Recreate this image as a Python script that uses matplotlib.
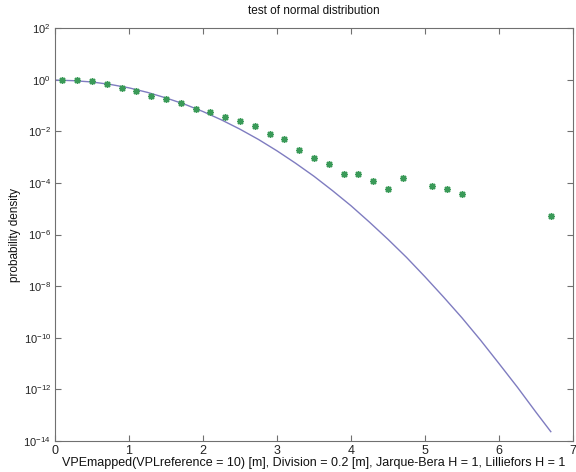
import numpy as np
import matplotlib
matplotlib.use("Agg")
import matplotlib.pyplot as plt
from matplotlib.ticker import FixedLocator, NullLocator, LogFormatterSciNotation

plt.rcParams['font.family'] = ['Liberation Sans', 'DejaVu Sans']
plt.rcParams['mathtext.fontset'] = 'custom'
plt.rcParams['mathtext.rm'] = 'Liberation Sans'
plt.rcParams['mathtext.it'] = 'Liberation Sans'

# histogram estimate (bin centres, division 0.2)
hist_x = [0.1, 0.3, 0.5, 0.7, 0.9, 1.1, 1.3, 1.5, 1.7, 1.9, 2.1, 2.3, 2.5, 2.7,
          2.9, 3.1, 3.3, 3.5, 3.7, 3.9, 4.1, 4.3, 4.5, 4.7, 5.1, 5.3, 5.5, 6.7]
hist_y = [1.0, 0.97, 0.87, 0.65, 0.46, 0.355, 0.224, 0.17, 0.12, 0.072, 0.054,
          0.036, 0.025, 0.016, 7.6e-3, 4.9e-3, 1.95e-3, 9.1e-4, 5.4e-4, 2.3e-4,
          2.3e-4, 1.2e-4, 5.9e-5, 1.6e-4, 7.4e-5, 5.9e-5, 3.7e-5, 5.4e-6]

# fitted normal density
fit_x = [0.0, 0.25, 0.5, 0.75, 1.0, 1.25, 1.5, 1.75, 2.0, 2.25, 2.5, 2.75, 3.0,
         3.25, 3.5, 3.75, 4.0, 4.25, 4.5, 4.75, 5.0, 5.25, 5.5, 5.75, 6.0, 6.25,
         6.5, 6.7]
fit_y = [0.96, 0.91, 0.81, 0.65, 0.48, 0.32, 0.195, 0.112, 0.058, 0.0275, 0.012,
         4.8e-3, 1.74e-3, 5.8e-4, 1.8e-4, 5.0e-5, 1.3e-5, 3.0e-6, 6.5e-7, 1.3e-7,
         2.3e-8, 3.8e-9, 5.9e-10, 8.1e-11, 1.0e-11, 1.2e-12, 1.3e-13, 2.3e-14]

y_ticks = [1e-14, 1e-12, 1e-10, 1e-8, 1e-6, 1e-4, 1e-2, 1e0, 1e2]
x_ticks = [0, 1, 2, 3, 4, 5, 6, 7]

fig = plt.figure(figsize=(5.76, 4.72), dpi=100)
ax = fig.add_axes([55 / 576, 1 - 441 / 472, 518 / 576, 413 / 472])

ax.semilogy(fit_x, fit_y, color='#7f7cc0', linewidth=1.0)
ax.plot(hist_x, hist_y, linestyle='none', marker=(8, 2, 0), markersize=5,
        markeredgewidth=1.0, color='#3a9a58')

ax.set_xlim(0, 7)
ax.set_ylim(1e-14, 1e2)
ax.xaxis.set_major_locator(FixedLocator(x_ticks))
ax.yaxis.set_major_locator(FixedLocator(y_ticks))
ax.yaxis.set_minor_locator(NullLocator())
ax.yaxis.set_major_formatter(LogFormatterSciNotation())

for s in ax.spines.values():
    s.set_color('#707070')
    s.set_linewidth(0.8)
ax.tick_params(direction='in', top=True, right=True, length=4, width=0.8,
               color='#707070', labelcolor='#222222', pad=3)
ax.tick_params(axis='x', labelsize=9)
ax.tick_params(axis='y', labelsize=8)

ax.set_title('test of normal distribution', fontsize=8.5, pad=10, color='#111111')
ax.set_xlabel('VPEmapped(VPLreference = 10) [m], Division = 0.2 [m], '
              'Jarque-Bera H = 1, Lilliefors H = 1', fontsize=9, labelpad=0,
              color='#111111')
ax.set_ylabel('probability density', fontsize=8.5, labelpad=2, color='#111111')

fig.savefig('out.png', dpi=100)
